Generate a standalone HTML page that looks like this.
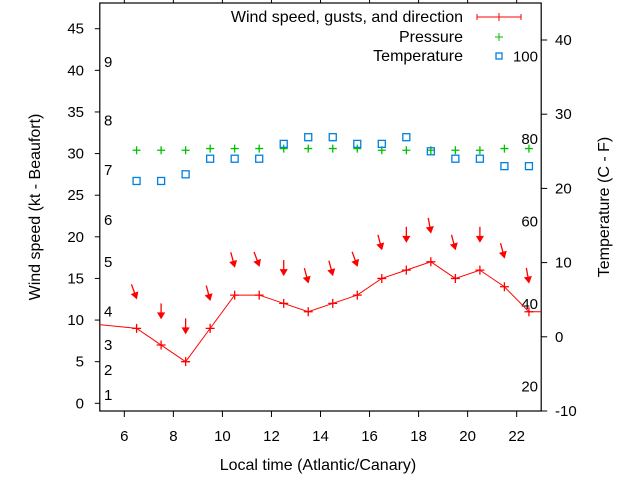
<!DOCTYPE html>
<html><head><meta charset="utf-8"><style>
html,body{margin:0;padding:0;background:#fff;}
svg{display:block;font-family:"Liberation Sans",Arial,sans-serif;}
</style></head><body>
<svg id="chart" width="640" height="480" viewBox="0 0 640 480">
<g id="axes"></g><g id="marks"></g>
</svg>
<script>
// ---- data ----
const hours = [6.5,7.5,8.5,9.5,10.5,11.5,12.5,13.5,14.5,15.5,16.5,17.5,18.5,19.5,20.5,21.5,22.5];
const windSpeed = [9,7,5,9,13,13,12,11,12,13,15,16,17,15,16,14,11];
const windGust = [12.6,10.2,8.4,12.4,16.4,16.5,15.4,14.5,15.4,16.5,18.5,19.4,20.5,18.5,19.4,17.5,14.5];
const windDir = [340,0,0,345,345,340,0,345,345,340,345,0,350,345,0,345,350];
const pressure = [1015.4,1015.4,1015.4,1015.6,1015.6,1015.6,1015.6,1015.6,1015.6,1015.6,1015.4,1015.4,1015.4,1015.4,1015.4,1015.6,1015.6];
const temperature = [21,21,21.9,24,24,24,26,26.9,26.9,26,26,26.9,25,24,24,23,23];
const windEdgeBefore = {h:4.5, v:9.6};
const windEdgeAfter = {h:23.5, v:11};
const xTicks = [6,8,10,12,14,16,18,20,22];
const yTicks = [0,5,10,15,20,25,30,35,40,45];
const y2Ticks = [-10,0,10,20,30,40];
const beaufortKt = [1,4,7,11,17,22,28,34,41];
const beaufortLabels = ["1","2","3","4","5","6","7","8","9"];
const fahrenheit = [20,40,60,80,100];

// ---- scales ----
const L=99.8,R=541.2,T=3,B=411;
const X=h=>L+(h-5)*(R-L)/18;
const Y=v=>403.3-v*8.324;
const Y2=c=>411-(c+10)*7.42;
const YP=p=>Y(p-985);
const NS="http://www.w3.org/2000/svg";
const FS=15, TFS=16;
function mk(tag,attrs,parent,text){const e=document.createElementNS(NS,tag);for(const k in attrs)e.setAttribute(k,attrs[k]);if(text!==undefined)e.textContent=text;(parent||document.getElementById('marks')).appendChild(e);return e;}
const ax=document.getElementById('axes');
const mg=document.getElementById('marks');

let fr=mk('rect',{x:L,y:T,width:R-L,height:B-T,fill:'none',stroke:'#000','stroke-width':1.2},ax);



xTicks.forEach(t=>{
  const x=X(t);
  let l=mk('line',{x1:x,y1:B,x2:x,y2:B+6,stroke:'#000'},ax);
  
  
  let l2=mk('line',{x1:x,y1:T,x2:x,y2:T-6,stroke:'#000'},ax);
  
  
  let tx=mk('text',{x:x,y:441,'text-anchor':'middle','font-size':FS},ax,String(t));
  
  
});
yTicks.forEach(t=>{
  const y=Y(t);
  let l=mk('line',{x1:L,y1:y,x2:L-5,y2:y,stroke:'#000'},ax);
  
  
  let tx=mk('text',{x:84,y:y+5,'text-anchor':'end','font-size':FS},ax,String(t));
  
  
});
y2Ticks.forEach(t=>{
  const y=Y2(t);
  let l=mk('line',{x1:R,y1:y,x2:R+6,y2:y,stroke:'#000'},ax);
  
  
  let tx=mk('text',{x:555,y:y+5,'text-anchor':'start','font-size':FS},ax,String(t));
  
  
});
beaufortKt.forEach((k,i)=>{
  let tx=mk('text',{x:104,y:Y(k)+5,'font-size':FS},ax,beaufortLabels[i]);
  
  
});
fahrenheit.forEach(f=>{
  let tx=mk('text',{x:538,y:Y2((f-32)*5/9)+5,'text-anchor':'end','font-size':FS},ax,String(f));
  
  
});
let xt=mk('text',{x:318,y:470,'text-anchor':'middle','font-size':TFS},ax,'Local time (Atlantic/Canary)');


let yt=mk('text',{x:0,y:0,'text-anchor':'middle','font-size':TFS,transform:'translate(40,207) rotate(-90)'},ax,'Wind speed (kt - Beaufort)');


let y2t=mk('text',{x:0,y:0,'text-anchor':'middle','font-size':TFS,transform:'translate(609,207) rotate(-90)'},ax,'Temperature (C - F)');



// legend
const leg=[['Wind speed, gusts, and direction',17],['Pressure',37],['Temperature',56]];
leg.forEach(([t,y])=>{
  let tx=mk('text',{x:463,y:y+5,'text-anchor':'end','font-size':TFS},ax,t);
  
  
});
mk('path',{d:'M477,17H521M477,14V20M521,14V20M499,13V21',stroke:'#f00',fill:'none'},ax);
mk('path',{d:'M495,37H503M499,33V41',stroke:'#00c000',fill:'none'},ax);
mk('rect',{x:496,y:53,width:6,height:6,stroke:'#0080e0',fill:'none','stroke-width':1.3},ax);

// clip
const defs=mk('defs',{},document.getElementById('chart'));
const cp=mk('clipPath',{id:'pc'},defs);
mk('rect',{x:L,y:T,width:R-L,height:B-T},cp);
mg.setAttribute('clip-path','url(#pc)');

// wind line
const pts=[[windEdgeBefore.h,windEdgeBefore.v]].concat(hours.map((h,i)=>[h,windSpeed[i]])).concat([[windEdgeAfter.h,windEdgeAfter.v]]);
let wl=mk('polyline',{points:pts.map(p=>X(p[0])+','+Y(p[1])).join(' '),fill:'none',stroke:'#f00','stroke-width':1});


hours.forEach((h,i)=>{
  const x=X(h),y=Y(windSpeed[i]);
  let p=mk('path',{d:`M${x-4.5},${y}H${x+4.5}M${x},${y-4.5}V${y+4.5}`,stroke:'#f00','stroke-width':1.3});
  
  
  // gust arrow
  const tx=x,ty=Y(windGust[i]);
  const a=windDir[i]*Math.PI/180, len=15;
  const dx=Math.sin(a), dy=-Math.cos(a);
  const sx=tx+dx*len, sy=ty+dy*len;
  const hl=5.5,hw=3.2;
  const bx=tx+dx*hl, by=ty+dy*hl;
  const px=-dy, py=dx;
  const g=mk('g',{});
  
  
  mk('line',{x1:sx,y1:sy,x2:bx,y2:by,stroke:'#f00','stroke-width':1.3},g);
  mk('polygon',{points:`${tx},${ty} ${bx+px*hw},${by+py*hw} ${bx-px*hw},${by-py*hw}`,fill:'#f00',stroke:'#f00'},g);
});
hours.forEach((h,i)=>{
  const x=X(h),y=YP(pressure[i]);
  let p=mk('path',{d:`M${x-4},${y}H${x+4}M${x},${y-4}V${y+4}`,stroke:'#00c000','stroke-width':1.3});
  
  
});
hours.forEach((h,i)=>{
  const x=X(h),y=Y2(temperature[i]);
  let r=mk('rect',{x:x-3.5,y:y-3.5,width:7,height:7,fill:'none',stroke:'#0080e0','stroke-width':1.3});
  
  
});
</script>
</body></html>
